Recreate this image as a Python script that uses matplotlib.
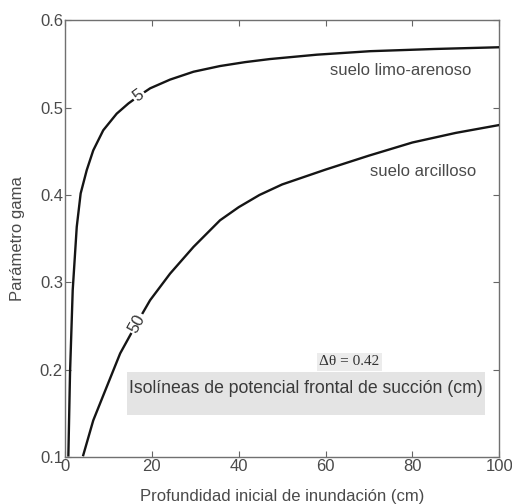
import numpy as np
import matplotlib
matplotlib.use("Agg")
import matplotlib.pyplot as plt
from matplotlib.patches import Rectangle

# Data
x_psi5 = [0.77, 1.15, 1.77, 2.7, 3.6, 5.0, 6.5, 8.8, 11.9, 14.6, 16.9, 19.6, 24.2, 29.6, 35.7, 41.5, 47.2, 58.0, 70.3, 85.0, 100.0]
y_psi5 = [0.102, 0.196, 0.291, 0.3635, 0.4017, 0.4284, 0.451, 0.474, 0.493, 0.5047, 0.513, 0.522, 0.532, 0.541, 0.5475, 0.552, 0.5555, 0.5605, 0.5645, 0.567, 0.569]

x_psi50 = [4.2, 6.5, 9.6, 12.7, 16.5, 19.6, 24.2, 29.6, 35.7, 40.0, 44.8, 50.0, 60.0, 70.0, 80.0, 90.0, 100.0]
y_psi50 = [0.1023, 0.142, 0.1804, 0.2187, 0.253, 0.2796, 0.310, 0.3406, 0.371, 0.386, 0.400, 0.412, 0.429, 0.445, 0.460, 0.471, 0.480]

label_psi5 = "5"
label_psi50 = "50"
label_pos5 = (16.9, 0.514)
label_pos50 = (16.5, 0.253)

x_ticks = [0, 20, 40, 60, 80, 100]
y_ticks = [0.1, 0.2, 0.3, 0.4, 0.5, 0.6]
y_ticklabels = ["0.1", "0.2", "0.3", "0.4", "0.5", "0.6"]

xlabel = "Profundidad inicial de inundación (cm)"
ylabel = "Parámetro gama"
soil1 = "suelo limo-arenoso"
soil2 = "suelo arcilloso"
note_title = "Isolíneas de potencial frontal de succión (cm)"
delta_text = "Δθ = 0.42"

plt.rcParams['font.family'] = ['Liberation Sans', 'DejaVu Sans']
fig = plt.figure(figsize=(5.12, 5.04), dpi=100)
ax = fig.add_axes([0.127, 0.093, 0.848, 0.867])

txtc = "#4a4a4a"
ax.plot(x_psi5, y_psi5, color="#151515", lw=1.7, zorder=3)
ax.plot(x_psi50, y_psi50, color="#151515", lw=1.7, zorder=3)
ax.set_xlim(0, 100)
ax.set_ylim(0.1, 0.6)
ax.set_xticks(x_ticks)
ax.set_yticks(y_ticks)
ax.set_yticklabels(y_ticklabels)
ax.tick_params(direction="in", top=True, right=True, length=4, width=0.8,
               colors="#666666", labelsize=12, labelcolor=txtc)
ax.tick_params(axis="y", pad=1.5)
ax.tick_params(axis="x", pad=1.0)
for s in ax.spines.values():
    s.set_color("#707070")
    s.set_linewidth(1.0)

ax.set_xlabel(xlabel, fontsize=12, color=txtc)
ax.set_ylabel(ylabel, fontsize=12, color=txtc)
ax.xaxis.set_label_coords(0.5, -0.073)
ax.yaxis.set_label_coords(-0.092, 0.5)

fig.canvas.draw()

def slope_angle(xs, ys, x0):
    i = np.searchsorted(xs, x0)
    i = min(max(i, 1), len(xs) - 1)
    p1 = ax.transData.transform((xs[i - 1], ys[i - 1]))
    p2 = ax.transData.transform((xs[i], ys[i]))
    return np.degrees(np.arctan2(p2[1] - p1[1], p2[0] - p1[0]))

for lab, pos, xs, ys in [(label_psi5, label_pos5, x_psi5, y_psi5),
                         (label_psi50, label_pos50, x_psi50, y_psi50)]:
    ang = slope_angle(xs, ys, pos[0])
    ax.text(pos[0], pos[1], lab, rotation=ang, rotation_mode="anchor",
            ha="center", va="center", fontsize=12, color="#333333", zorder=5,
            bbox=dict(facecolor="white", edgecolor="none", pad=1.2))

ax.text(77.3, 0.542, soil1, ha="center", va="center", fontsize=12, color=txtc)
ax.text(82.5, 0.427, soil2, ha="center", va="center", fontsize=12, color=txtc)

ax.add_patch(Rectangle((14.3, 0.148), 82.5, 0.049, facecolor="#e4e4e4",
                       edgecolor="none", zorder=1))
ax.text(55.5, 0.178, note_title, ha="center", va="center", fontsize=12.7,
        color="#3a3a3a", zorder=2)
ax.text(65.5, 0.209, delta_text, ha="center", va="center", fontsize=11,
        family=["Liberation Serif", "DejaVu Serif"], color="#333333", zorder=2,
        bbox=dict(facecolor="#ececec", edgecolor="none", pad=1.5))

fig.savefig("out.png", dpi=100)
